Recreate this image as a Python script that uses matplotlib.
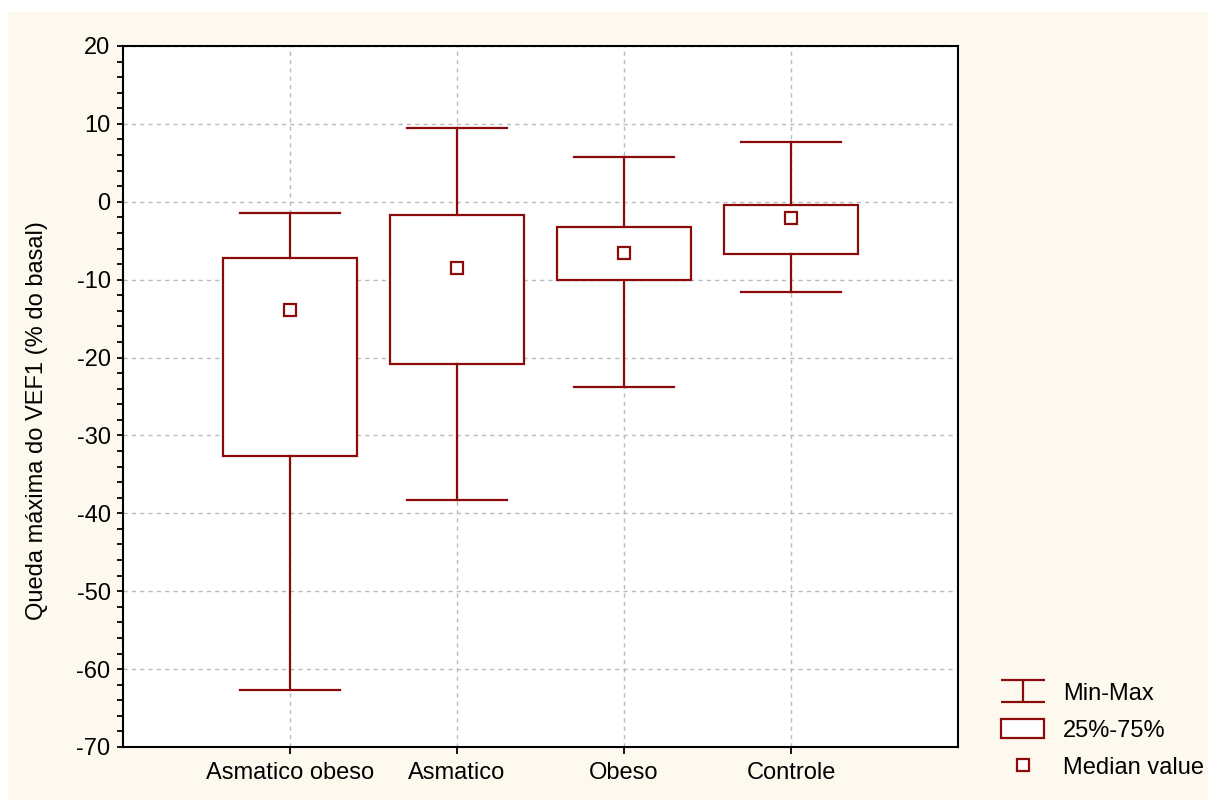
import matplotlib.pyplot as plt
import numpy as np
from matplotlib.lines import Line2D
from matplotlib.patches import Rectangle
from matplotlib.path import Path
from matplotlib.ticker import MultipleLocator

plt.rcParams['font.family'] = ['Liberation Sans', 'DejaVu Sans']
plt.rcParams['axes.unicode_minus'] = False

groups = ["Asmatico obeso", "Asmatico", "Obeso", "Controle"]
minimum = [-62.7, -38.3, -23.8, -11.6]
q1 = [-32.6, -20.8, -10.0, -6.7]
median = [-13.9, -8.5, -6.6, -2.1]
q3 = [-7.2, -1.7, -3.2, -0.4]
maximum = [-1.4, 9.5, 5.7, 7.7]

dark_red = "#8b0a0a"
cream = "#fdf9ee"
fs = 17

fig = plt.figure(figsize=(12.08, 8), dpi=100)
fig.patch.set_facecolor("white")
fig.patches.append(Rectangle((8 / 1208, 0), 1, 1 - 12 / 800, transform=fig.transFigure,
                             facecolor=cream, edgecolor="none", zorder=-10))

ax = fig.add_axes([123 / 1208, 1 - 747 / 800, 835 / 1208, 701 / 800])
ax.set_facecolor("white")

stats = []
for name, lo, a, m, b, hi in zip(groups, minimum, q1, median, q3, maximum):
    stats.append({"label": name, "whislo": lo, "q1": a, "med": m, "q3": b,
                  "whishi": hi, "mean": m, "fliers": []})

pos = np.arange(len(groups))
ax.bxp(stats, positions=pos, widths=0.8, capwidths=0.6, patch_artist=True,
       showmeans=True, showfliers=False,
       boxprops=dict(facecolor="white", edgecolor=dark_red, linewidth=1.6),
       whiskerprops=dict(color=dark_red, linewidth=1.6),
       capprops=dict(color=dark_red, linewidth=1.6),
       medianprops=dict(linewidth=0),
       meanprops=dict(marker="s", markersize=9, markerfacecolor="white",
                      markeredgecolor=dark_red, markeredgewidth=1.6),
       zorder=3)

ax.set_xlim(-1, 4)
ax.set_ylim(-70, 20)
ax.set_xticks(pos)
ax.set_xticklabels(groups, fontsize=fs)
ax.yaxis.set_major_locator(MultipleLocator(10))
ax.yaxis.set_minor_locator(MultipleLocator(2))
ax.tick_params(axis="y", which="both", direction="out", length=4, width=1.3,
               labelsize=fs, pad=5)
ax.tick_params(axis="x", direction="out", length=5, width=1.3, pad=6)
ax.set_ylabel("Queda máxima do VEF1 (% do basal)", fontsize=fs)
ax.yaxis.set_label_coords(-0.09, 0.465)
ax.grid(True, which="major", color="#bbbbbb", linestyle=(0, (3, 3)), linewidth=1)
ax.set_axisbelow(True)
for s in ax.spines.values():
    s.set_linewidth(1.5)
    s.set_color("black")

ibeam = Path([(-1, 0.5), (1, 0.5), (0, 0.5), (0, -0.5), (-1, -0.5), (1, -0.5)],
             [Path.MOVETO, Path.LINETO, Path.MOVETO, Path.LINETO, Path.MOVETO, Path.LINETO])
handles = [
    Line2D([], [], linestyle="none", marker=ibeam, markersize=31, markeredgecolor=dark_red,
           markerfacecolor="none", markeredgewidth=1.6),
    Rectangle((0, 0), 1, 1, facecolor="white", edgecolor=dark_red, linewidth=1.6),
    Line2D([], [], linestyle="none", marker="s", markersize=9, markerfacecolor="white",
           markeredgecolor=dark_red, markeredgewidth=1.6),
]
fig.legend(handles, ["Min-Max", "25%-75%", "Median value"], loc="lower left",
           bbox_to_anchor=(980 / 1208, 0), frameon=False, fontsize=fs,
           handlelength=1.8, handleheight=0.85, labelspacing=0.6, handletextpad=0.8)

fig.savefig("out.png", dpi=100, facecolor=fig.get_facecolor())
